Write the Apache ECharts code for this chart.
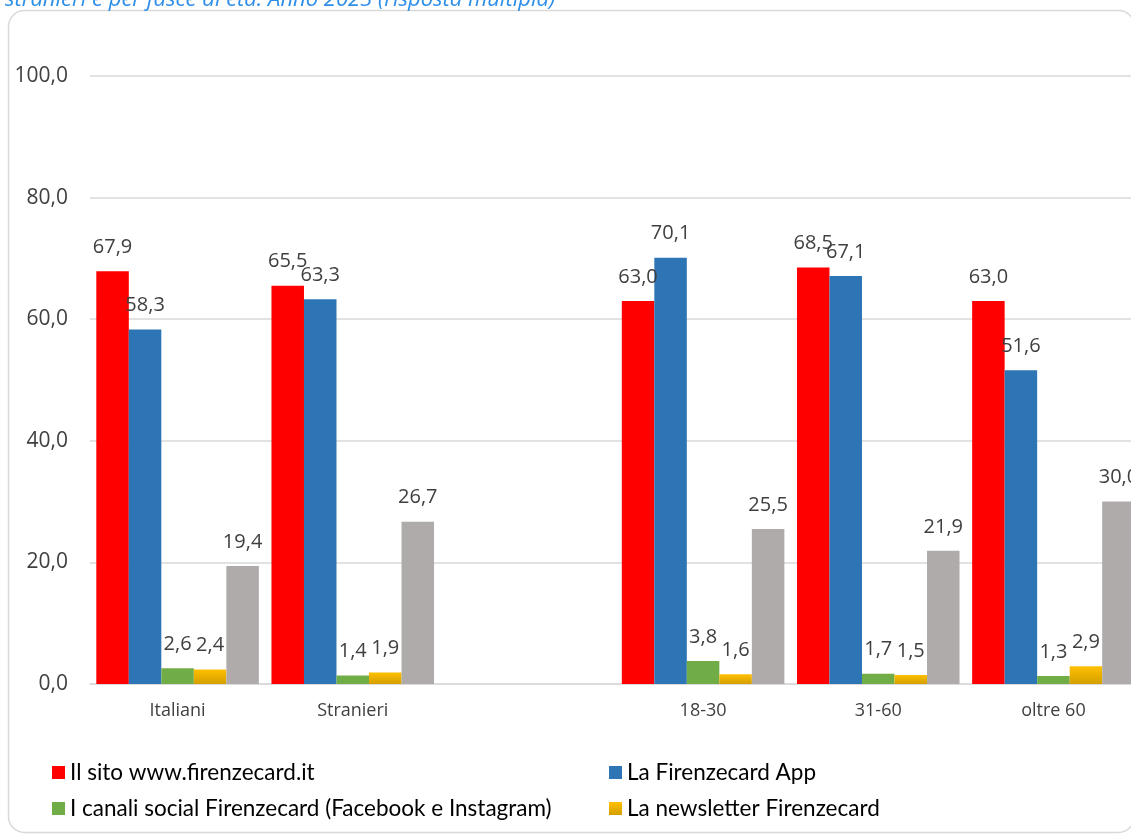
<!DOCTYPE html>
<html>
<head>
<meta charset="utf-8">
<script src="https://cdn.jsdelivr.net/npm/echarts@6/dist/echarts.min.js"></script>
<style>
html,body{margin:0;padding:0;overflow:hidden;background:#fff;}
#c{width:1170px;height:870px;}
</style>
</head>
<body>
<div id="c"></div>
<script>
const categories = ['Italiani', 'Stranieri', '', '18-30', '31-60', 'oltre 60'];
const seriesNames = ['Il sito www.firenzecard.it', 'La Firenzecard App', 'I canali social Firenzecard (Facebook e Instagram)', 'La newsletter Firenzecard', 'Altro'];
const sitoValues = [67.9, 65.5, null, 63.0, 68.5, 63.0];
const appValues = [58.3, 63.3, null, 70.1, 67.1, 51.6];
const socialValues = [2.6, 1.4, null, 3.8, 1.7, 1.3];
const newsletterValues = [2.4, 1.9, null, 1.6, 1.5, 2.9];
const altroValues = [19.4, 26.7, null, 25.5, 21.9, 30.0];
const yTicks = [0, 20, 40, 60, 80, 100];
const titleText = 'stranieri e per fasce di età. Anno 2023 (risposta multipla)';

const colors = ['#FF0000', '#2E75B6', '#70AD47',
  new echarts.graphic.LinearGradient(0, 0, 0, 1, [{offset: 0, color: '#FFC000'}, {offset: 1, color: '#D49F00'}]),
  '#AFABAB'];
const allValues = [sitoValues, appValues, socialValues, newsletterValues, altroValues];
const fmt = v => (v == null ? '' : v.toFixed(1).replace('.', ','));

const chart = echarts.init(document.getElementById('c'), null, {renderer: 'canvas'});
const labelStyle = {
  show: true, position: 'top', distance: 14,
  fontFamily: 'Open Sans', fontSize: 20, color: '#404040',
  formatter: p => fmt(p.value)
};
const legendText = {fontFamily: 'Lato', fontSize: 22.5, color: '#000', lineHeight: 23};
chart.setOption({
  animation: false,
  backgroundColor: '#fff',
  graphic: [
    {type: 'rect', z: -1, shape: {x: 8.5, y: 10.5, width: 1126, height: 822, r: 16},
      style: {fill: 'none', stroke: '#D9D9D9', lineWidth: 1.5}},
    {type: 'text', x: 5, y: 11, style: {text: titleText, fill: '#2F8FE8',
      font: 'italic 22px "Open Sans"', verticalAlign: 'bottom'}}
  ],
  grid: {left: 90, right: 29, top: 76, bottom: 186, containLabel: false},
  legend: [
    {orient: 'vertical', left: 47, top: 756, itemWidth: 13, itemHeight: 13, itemGap: 13,
      icon: 'rect', data: [seriesNames[0], seriesNames[2]], textStyle: legendText},
    {orient: 'vertical', left: 604, top: 756, itemWidth: 13, itemHeight: 13, itemGap: 13,
      icon: 'rect', data: [seriesNames[1], seriesNames[3]], textStyle: legendText},
    {orient: 'vertical', left: 47, top: 836, itemWidth: 13, itemHeight: 13,
      icon: 'rect', data: [seriesNames[4]], textStyle: legendText}
  ],
  xAxis: {
    type: 'category', data: categories,
    axisLine: {show: true, lineStyle: {color: '#D9D9D9', width: 1.5}},
    axisTick: {show: false},
    axisLabel: {fontFamily: 'Open Sans', fontSize: 18, color: '#404040', margin: 18}
  },
  yAxis: {
    type: 'value', min: 0, max: 100, interval: 20,
    axisLine: {show: false}, axisTick: {show: false},
    splitLine: {lineStyle: {color: '#D9D9D9', width: 1.5}},
    axisLabel: {fontFamily: 'Open Sans', fontSize: 21, color: '#404040', margin: 22,
      formatter: v => yTicks.includes(v) ? v.toFixed(1).replace('.', ',') : ''}
  },
  series: allValues.map((vals, i) => ({
    name: seriesNames[i], type: 'bar', data: vals,
    barGap: '0%', barCategoryGap: '7.2%',
    itemStyle: {color: colors[i]},
    label: labelStyle
  }))
});
</script>
</body>
</html>
